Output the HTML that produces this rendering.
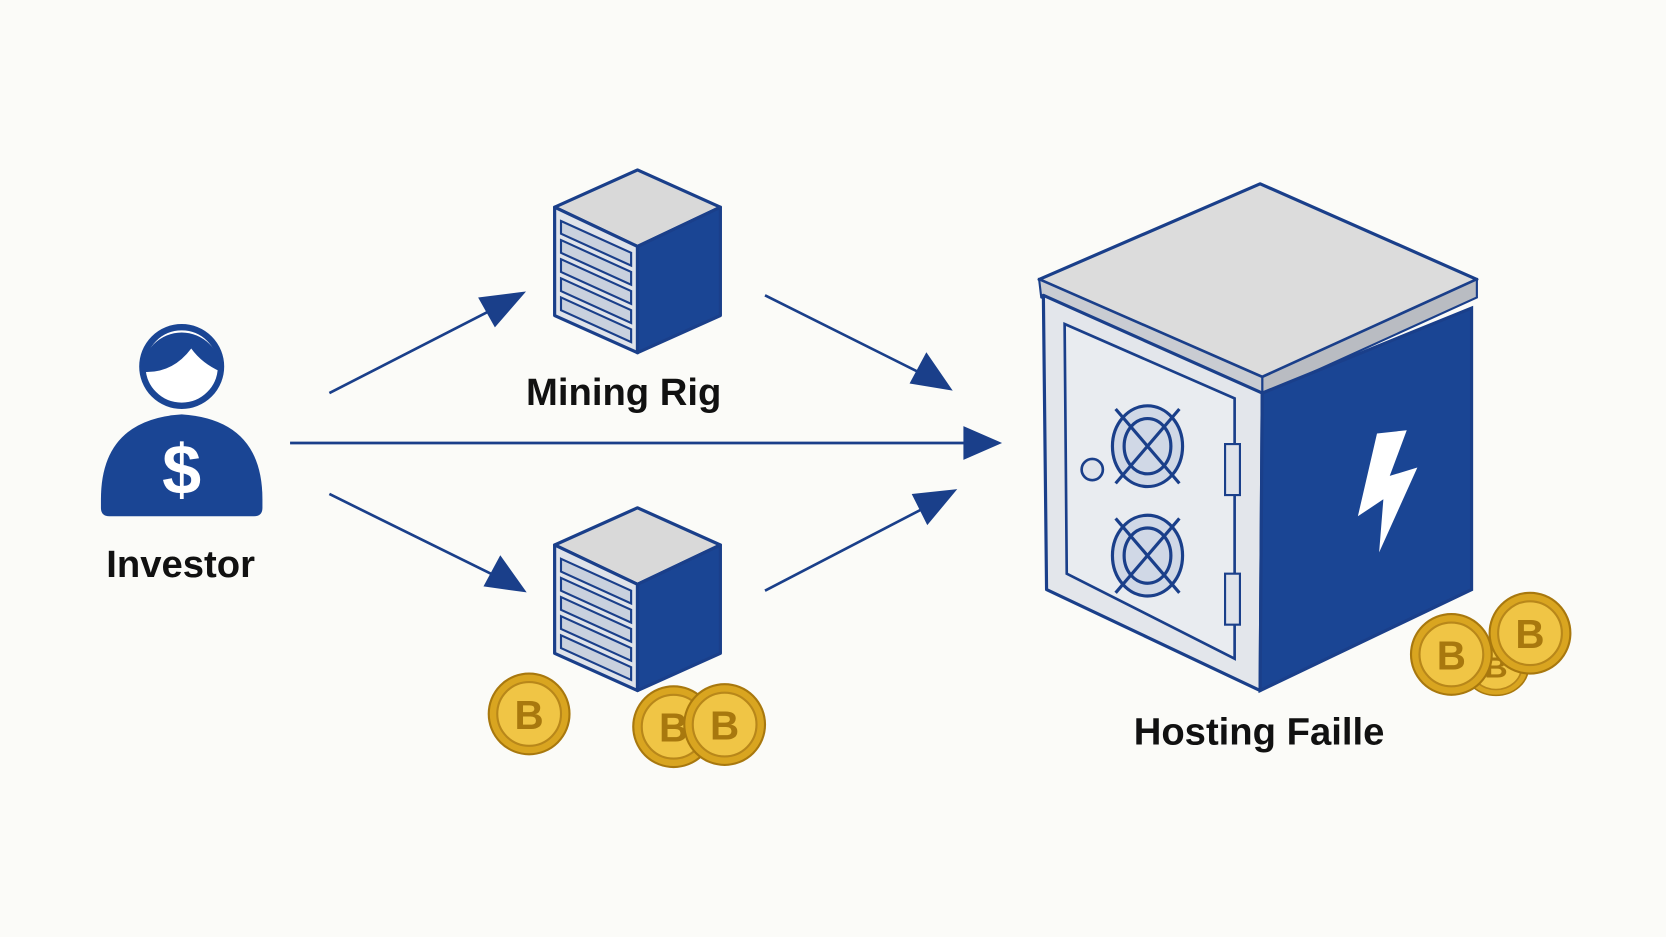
<!DOCTYPE html>
<html><head><meta charset="utf-8"><style>
html,body{margin:0;padding:0;background:#fbfbf8;}
svg{display:block}
text{font-family:"Liberation Sans",sans-serif;font-weight:bold;fill:#111}
</style></head><body>
<svg width="1666" height="937" viewBox="0 0 1568 882" preserveAspectRatio="none" xmlns="http://www.w3.org/2000/svg">
<defs>
<g id="server">
 <polygon points="522,195 600,160 678,195 600,232" fill="#d9d9d9" stroke="#1a3f8a" stroke-width="3" stroke-linejoin="round"/>
 <polygon points="522,195 600,232 600,332 522,297" fill="#dfe3ea" stroke="#1a3f8a" stroke-width="3" stroke-linejoin="round"/>
 <polygon points="600,232 678,195 678,297 600,332" fill="#1a4594" stroke="#1a3f8a" stroke-width="3" stroke-linejoin="round"/>
 <g fill="#c9d1de" stroke="#1a3f8a" stroke-width="2">
  <polygon points="528,208 594,238 594,250 528,220"/>
  <polygon points="528,226 594,256 594,268 528,238"/>
  <polygon points="528,244 594,274 594,286 528,256"/>
  <polygon points="528,262 594,292 594,304 528,274"/>
  <polygon points="528,280 594,310 594,322 528,292"/>
 </g>
</g>
<g id="coin">
 <circle r="38" fill="#d9a520" stroke="#a8780e" stroke-width="2"/>
 <circle r="30" fill="#f0c545" stroke="#b8871a" stroke-width="2"/>
 <text y="14" text-anchor="middle" font-size="38" style="fill:#a8780e">B</text>
</g>
</defs>
<rect width="1568" height="882" fill="#fbfbf8"/>

<!-- Investor -->
<path d="M95,470 Q95,395 171,390 Q247,395 247,470 L247,478 Q247,486 239,486 L103,486 Q95,486 95,478 Z" fill="#1a4594"/>
<circle cx="171" cy="345" r="37" fill="#fff" stroke="#1a4594" stroke-width="6"/>
<path d="M134,350 A37,37 0 0 1 208,350 Q190,342 180,328 Q162,352 134,350 Z" fill="#1a4594"/>
<text x="171" y="465" text-anchor="middle" font-size="66" style="fill:#fff">$</text>
<text x="170" y="543" text-anchor="middle" font-size="36">Investor</text>

<!-- Servers -->
<use href="#server"/>
<use href="#server" transform="translate(0,318)"/>
<text x="587" y="381" text-anchor="middle" font-size="36">Mining Rig</text>

<!-- Arrows -->
<g stroke="#1a3f8a" stroke-width="2.5" fill="#1a3f8a">
 <line x1="310" y1="370" x2="470" y2="288"/>
 <polygon points="492,276 452,281 466,306"/>
 <line x1="720" y1="278" x2="872" y2="354"/>
 <polygon points="894,366 872,334 858,360"/>
 <line x1="273" y1="417" x2="912" y2="417"/>
 <polygon points="940,417 908,403 908,431"/>
 <line x1="310" y1="465" x2="472" y2="545"/>
 <polygon points="493,556 471,525 457,551"/>
 <line x1="720" y1="556" x2="876" y2="475"/>
 <polygon points="898,462 860,466 873,492"/>
</g>

<!-- Coins under bottom rig -->
<use href="#coin" transform="translate(498,672)"/>
<use href="#coin" transform="translate(634,684)"/>
<use href="#coin" transform="translate(682,682)"/>

<!-- Safe -->
<polygon points="978,263 1186,173 1390,263 1188,355" fill="#dcdcdc" stroke="#1a3f8a" stroke-width="3" stroke-linejoin="round"/>
<polygon points="1188,355 1390,263 1390,280 1188,372" fill="#b9bcc2" stroke="#1a3f8a" stroke-width="2"/>
<polygon points="978,263 1188,355 1188,372 980,280" fill="#c9ccd2" stroke="#1a3f8a" stroke-width="2"/>
<polygon points="982,278 1188,370 1186,650 985,555" fill="#e3e6eb" stroke="#1a3f8a" stroke-width="3" stroke-linejoin="round"/>
<polygon points="1002,305 1162,375 1162,620 1004,540" fill="#e9ecf0" stroke="#1a3f8a" stroke-width="2.5"/>
<polygon points="1188,370 1385,290 1385,555 1186,650" fill="#1a4594" stroke="#1a3f8a" stroke-width="3"/>
<rect x="1153" y="418" width="14" height="48" fill="#dfe3ea" stroke="#1a3f8a" stroke-width="2"/>
<rect x="1153" y="540" width="14" height="48" fill="#dfe3ea" stroke="#1a3f8a" stroke-width="2"/>
<circle cx="1028" cy="442" r="10" fill="#dfe3ea" stroke="#1a3f8a" stroke-width="2.5"/>
<g fill="#d0d8e6" stroke="#1a3f8a" stroke-width="3">
 <ellipse cx="1080" cy="420" rx="33" ry="38"/>
 <ellipse cx="1080" cy="420" rx="22" ry="26"/>
 <ellipse cx="1080" cy="523" rx="33" ry="38"/>
 <ellipse cx="1080" cy="523" rx="22" ry="26"/>
</g>
<g stroke="#1a3f8a" stroke-width="3">
 <line x1="1050" y1="385" x2="1110" y2="455"/><line x1="1110" y1="385" x2="1050" y2="455"/>
 <line x1="1050" y1="488" x2="1110" y2="558"/><line x1="1110" y1="488" x2="1050" y2="558"/>
</g>
<polygon points="1296,408 1324,405 1308,448 1334,440 1298,520 1302,470 1278,486" fill="#fff"/>

<use href="#coin" transform="translate(1408,628) scale(0.8,0.7)"/>
<use href="#coin" transform="translate(1366,616)"/>
<use href="#coin" transform="translate(1440,596)"/>

<text x="1185" y="701" text-anchor="middle" font-size="36">Hosting Faille</text>
</svg>
</body></html>
